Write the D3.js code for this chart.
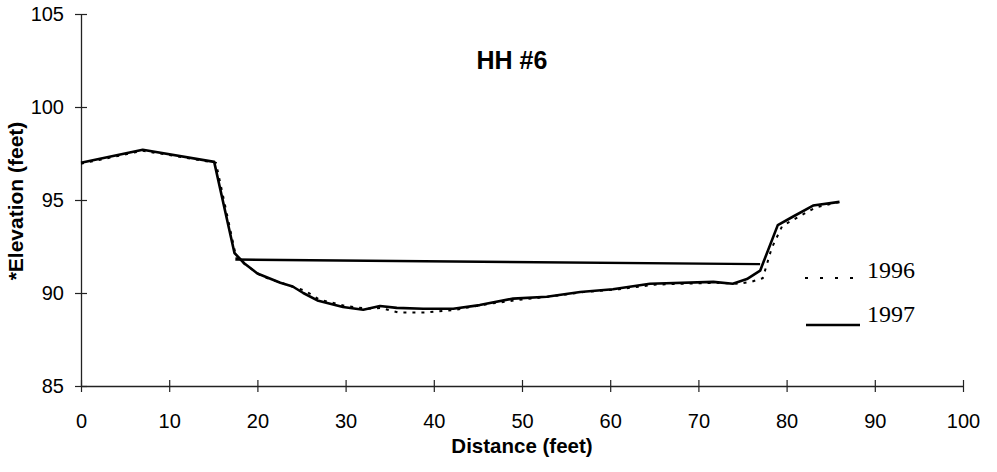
<!DOCTYPE html>
<html><head><meta charset="utf-8">
<script src="https://cdn.jsdelivr.net/npm/d3@7"></script>
<style>body{margin:0;background:#fff}svg{display:block}</style>
</head><body>
<svg id="c" width="997" height="472"></svg>
<script>
const xTicks = [0,10,20,30,40,50,60,70,80,90,100];
const yTicks = [85,90,95,100,105];
const dist1997 = [0,7,15.1,17.4,18.5,20,22.6,24,25.2,26.8,29.7,32,33.9,35.8,38.8,42.2,45.2,49,52.8,56.6,60.3,64.5,71.7,73.9,75.5,77,79,80.7,83,86];
const elev1997 = [97.0,97.7,97.05,92.15,91.6,91.05,90.55,90.35,90.0,89.6,89.25,89.1,89.3,89.2,89.15,89.15,89.35,89.7,89.8,90.05,90.2,90.5,90.6,90.5,90.75,91.2,93.65,94.1,94.7,94.9];
const dist1996 = [0,7,15.3,17.6,19,20.5,23,25.5,27,30,32.5,34,36,39,42.5,46,50,53,57,61,65,72,74.5,76,77.3,78.3,79.5,81,83.3,86];
const elev1996 = [96.95,97.65,97.0,91.9,91.4,90.9,90.5,90.1,89.65,89.3,89.15,89.2,88.95,88.95,89.1,89.4,89.65,89.8,90.05,90.2,90.45,90.55,90.5,90.6,90.8,92.4,93.6,94.0,94.6,94.9];
const waterDist = [17.5,77];
const waterElev = [91.8,91.55];
const seriesNames = ["1996","1997"];
const title = "HH #6";

const svg = d3.select("#c");
const x = d3.scaleLinear().domain([0,100]).range([81,963]);
const y = d3.scaleLinear().domain([85,105]).range([386,14]);
const font = "'Liberation Sans', Arial, sans-serif";
const serif = "'Liberation Serif', 'Times New Roman', serif";

// axes
const xa = svg.append("g").attr("transform","translate(0,386)")
  .call(d3.axisBottom(x).tickValues(xTicks).tickSizeInner(6).tickSizeOuter(0).tickPadding(22));
xa.selectAll(".tick line").attr("y1",-6).attr("y2",6);
const ya = svg.append("g").attr("transform","translate(81,0)")
  .call(d3.axisLeft(y).tickValues(yTicks).tickSizeInner(6).tickSizeOuter(0).tickPadding(11));
ya.selectAll(".tick line").attr("x1",-6).attr("x2",6);
[xa,ya].forEach(a=>{
  a.select(".domain").attr("stroke","#222").attr("stroke-width",1.3);
  a.selectAll(".tick line").attr("stroke","#222").attr("stroke-width",1.2);
  a.selectAll("text").attr("font-family",font).attr("font-size",20).attr("fill","#000");
});

const line = d3.line().x(d=>x(d[0])).y(d=>y(d[1]));
const d96 = dist1996.map((d,i)=>[d,elev1996[i]]);
const d97 = dist1997.map((d,i)=>[d,elev1997[i]]);
const dw = waterDist.map((d,i)=>[d,waterElev[i]]);

svg.append("path").attr("d",line(d96)).attr("fill","none").attr("stroke","#000")
  .attr("stroke-width",2).attr("stroke-dasharray","3,6");
svg.append("path").attr("d",line(d97)).attr("fill","none").attr("stroke","#000")
  .attr("stroke-width",2.6).attr("stroke-linejoin","round");
svg.append("path").attr("d",line(dw)).attr("fill","none").attr("stroke","#000")
  .attr("stroke-width",2.4);

// title
svg.append("text").attr("x",512).attr("y",69).attr("text-anchor","middle")
  .attr("font-family",font).attr("font-weight","bold").attr("font-size",25).text(title);
// axis titles
svg.append("text").attr("x",522).attr("y",453).attr("text-anchor","middle")
  .attr("font-family",font).attr("font-weight","bold").attr("font-size",20.5).text("Distance (feet)");
svg.append("text").attr("transform","translate(23,201) rotate(-90)").attr("text-anchor","middle")
  .attr("font-family",font).attr("font-weight","bold").attr("font-size",21).text("*Elevation (feet)");

// legend
const lg = svg.append("g");
lg.append("line").attr("x1",805).attr("x2",856).attr("y1",278).attr("y2",278)
  .attr("stroke","#000").attr("stroke-width",2).attr("stroke-dasharray","3,12");
lg.append("text").attr("x",867).attr("y",278).attr("font-family",serif)
  .attr("font-size",24).text(seriesNames[0]);
lg.append("line").attr("x1",806).attr("x2",860).attr("y1",325).attr("y2",325)
  .attr("stroke","#000").attr("stroke-width",2.6);
lg.append("text").attr("x",867).attr("y",322).attr("font-family",serif)
  .attr("font-size",24).text(seriesNames[1]);
</script>
</body></html>
